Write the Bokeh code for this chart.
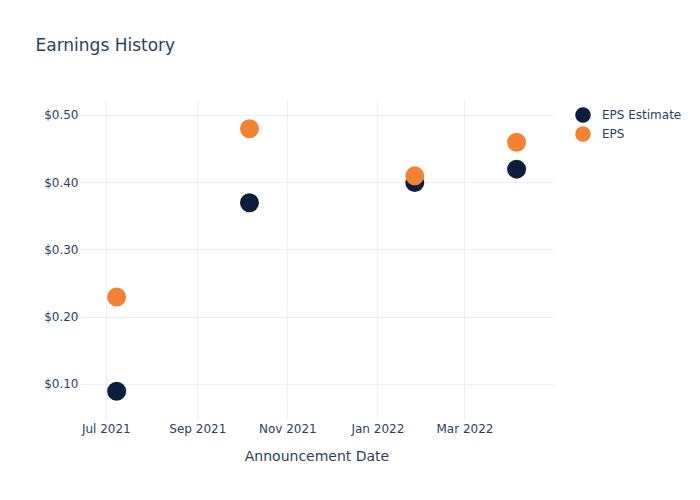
import datetime as dt
from bokeh.plotting import figure
from bokeh.models import (ColumnDataSource, FixedTicker, NumeralTickFormatter,
                          DatetimeTickFormatter, Legend, LegendItem, Range1d)
from bokeh.embed import file_html
from bokeh.resources import INLINE

dates = ["2021-07-08", "2021-10-06", "2022-01-26", "2022-04-05"]
eps_estimate = [0.09, 0.37, 0.40, 0.42]
eps_actual = [0.23, 0.48, 0.41, 0.46]
x_tick_dates = ["2021-07-01", "2021-09-01", "2021-11-01", "2022-01-01", "2022-03-01"]
y_ticks = [0.1, 0.2, 0.3, 0.4, 0.5]

def to_ms(s):
    return (dt.datetime.strptime(s, "%Y-%m-%d") - dt.datetime(1970, 1, 1)).total_seconds() * 1000

x = [to_ms(d) for d in dates]
src = ColumnDataSource(dict(x=x, est=eps_estimate, eps=eps_actual))

FONT = "DejaVu Sans"
TXT = "#2a3f5f"

p = figure(frame_width=473, frame_height=320, x_axis_type="datetime", output_backend="svg",
           toolbar_location=None, min_border_left=80, min_border_right=0,
           min_border_top=0, min_border_bottom=0,
           x_range=Range1d(to_ms("2021-06-13") + 12 * 3600e3, to_ms("2022-04-30")),
           y_range=Range1d(0.0465, 0.522))
p.outline_line_color = None
p.background_fill_color = "white"
p.border_fill_color = "white"

# marker drawn as fill + thick outline of the same colour (~19 px across)
r1 = p.scatter("x", "est", source=src, size=11, fill_color="#0c1e3e",
               line_color="#0c1e3e", line_width=8)
r2 = p.scatter("x", "eps", source=src, size=11, fill_color="#f58233",
               line_color="#f58233", line_width=8)

p.xaxis.ticker = FixedTicker(ticks=[to_ms(d) for d in x_tick_dates])
p.xaxis.formatter = DatetimeTickFormatter(days="%b %Y", months="%b %Y", years="%b %Y")
p.yaxis.ticker = FixedTicker(ticks=y_ticks)
p.yaxis.formatter = NumeralTickFormatter(format="$0.00")
for ax in (p.xaxis, p.yaxis):
    ax.axis_line_color = None
    ax.major_tick_line_color = None
    ax.minor_tick_line_color = None
    ax.major_label_text_font = FONT
    ax.major_label_text_font_size = "12px"
    ax.major_label_text_color = TXT
p.xaxis.major_label_standoff = -5
p.yaxis.major_label_standoff = -4
p.xaxis.axis_label = "Announcement Date"
p.xaxis.axis_label_text_font = FONT
p.xaxis.axis_label_text_font_size = "14px"
p.xaxis.axis_label_text_font_style = "normal"
p.xaxis.axis_label_text_color = TXT
p.xaxis.axis_label_standoff = 9
p.grid.grid_line_color = "#ebf0f8"
p.grid.grid_line_width = 1
p.min_border_bottom = 80

legend = Legend(items=[LegendItem(label="EPS Estimate", renderers=[r1]),
                       LegendItem(label="EPS", renderers=[r2])],
                location=(20, 277), border_line_color=None, background_fill_alpha=0,
                label_text_font=FONT, label_text_font_size="12px", label_text_color=TXT,
                glyph_width=19, glyph_height=19, label_height=19, spacing=0,
                padding=0, margin=0, label_standoff=10)
p.add_layout(legend, "right")
p.min_border_right = 147

p.title.text = "Earnings History\n"
p.title.text_font = FONT
p.title.text_font_size = "17px"
p.title.text_font_style = "normal"
p.title.text_color = TXT
p.title.align = "left"
p.title.offset = -45
p.title.standoff = 52
p.min_border_top = 100

open("out.html", "w").write(file_html(p, INLINE))
